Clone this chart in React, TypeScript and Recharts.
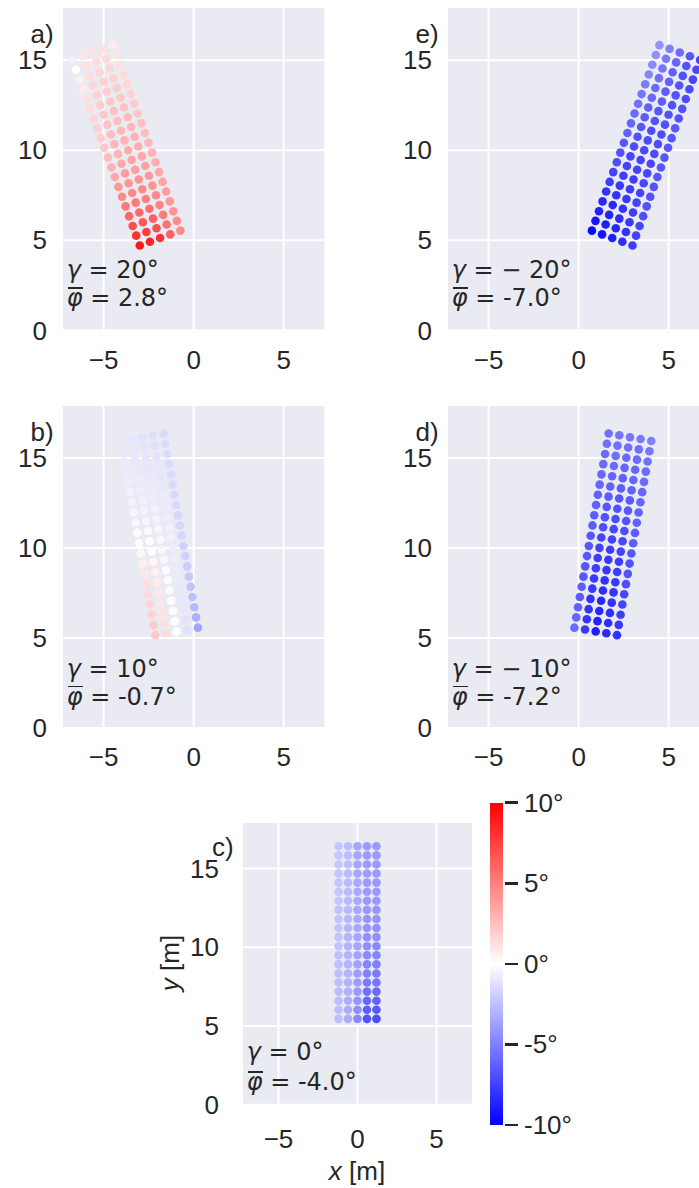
import React from 'react';
import { ScatterChart, Scatter, XAxis, YAxis, CartesianGrid } from 'recharts';

// local grid of the array (m), before rotation by gamma
const colOffsets = [-1.2, -0.6, 0, 0.6, 1.2];
const rowOffsets = [5.45, 6.03, 6.6, 7.18, 7.76, 8.33, 8.91, 9.49, 10.06, 10.64, 11.22, 11.79, 12.37, 12.95, 13.52, 14.1, 14.68, 15.25, 15.83, 16.41];

const xTicks = [-5, 0, 5];
const yTicks = [0, 5, 10, 15];
const cbarTicks = [10, 5, 0, -5, -10];

// phi (deg) per column, bottom row first
const phiA = [
  [9.0, 8.0, 7.0, 6.0, 5.2, 4.6, 4.0, 3.4, 3.0, 2.6, 2.2, 2.0, 1.8, 1.6, 1.4, 1.2, 0.8, 0.6, 0.0, -0.6],
  [8.6, 7.6, 6.6, 5.8, 5.2, 4.6, 4.2, 3.8, 3.4, 3.0, 2.8, 2.6, 2.4, 2.2, 2.0, 1.8, 1.6, 1.4, 1.2, 1.0],
  [8.0, 7.0, 6.2, 5.6, 5.0, 4.6, 4.2, 3.8, 3.6, 3.2, 3.0, 2.8, 2.6, 2.4, 2.2, 2.0, 1.8, 1.6, 1.4, 1.2],
  [6.2, 5.6, 5.2, 4.8, 4.6, 4.2, 4.0, 3.6, 3.4, 3.2, 3.0, 2.8, 2.6, 2.4, 2.2, 2.0, 1.8, 1.6, 1.4, 1.2],
  [4.6, 4.5, 4.2, 4.0, 3.8, 3.6, 3.4, 3.2, 3.0, 2.8, 2.6, 2.4, 2.2, 2.0, 1.8, 1.6, 1.4, 1.2, 1.0, 0.8],
];
const phiB = [
  [2.2, 2.0, 1.8, 1.6, 1.4, 1.2, 0.9, 0.6, 0.3, 0.1, -0.1, -0.3, -0.4, -0.5, -0.6, -0.7, -0.8, -0.8, -0.9, -0.9],
  [1.4, 1.2, 1.1, 1.0, 0.9, 0.7, 0.5, 0.3, 0.1, 0.0, -0.2, -0.4, -0.5, -0.6, -0.7, -0.8, -0.9, -1.0, -1.0, -1.0],
  [0.0, 0.0, -0.1, -0.1, -0.2, -0.2, -0.2, -0.3, -0.3, -0.3, -0.4, -0.5, -0.6, -0.7, -0.8, -0.9, -1.0, -1.0, -1.1, -1.2],
  [-1.2, -1.2, -1.0, -1.0, -0.9, -0.8, -0.8, -0.7, -0.7, -0.6, -0.6, -0.7, -0.8, -0.8, -0.9, -1.0, -1.0, -1.1, -1.2, -1.3],
  [-3.6, -3.2, -2.8, -2.6, -2.4, -2.2, -2.0, -1.8, -1.8, -1.6, -1.6, -1.6, -1.5, -1.5, -1.5, -1.4, -1.4, -1.4, -1.4, -1.5],
];
const phiC = [
  [-2.6, -2.6, -2.6, -2.6, -2.5, -2.5, -2.5, -2.5, -2.4, -2.4, -2.4, -2.4, -2.4, -2.3, -2.3, -2.3, -2.3, -2.2, -2.2, -2.2],
  [-3.2, -3.2, -3.2, -3.1, -3.1, -3.0, -3.0, -3.0, -2.9, -2.9, -2.9, -2.8, -2.8, -2.8, -2.7, -2.7, -2.7, -2.6, -2.6, -2.6],
  [-4.6, -4.4, -4.2, -4.0, -3.9, -3.8, -3.7, -3.6, -3.5, -3.5, -3.4, -3.4, -3.4, -3.4, -3.4, -3.4, -3.5, -3.5, -3.5, -3.5],
  [-6.8, -6.4, -6.0, -5.6, -5.2, -5.0, -4.8, -4.6, -4.4, -4.3, -4.2, -4.1, -4.0, -4.0, -3.9, -3.9, -3.9, -3.9, -3.9, -3.9],
  [-7.0, -6.6, -6.2, -5.8, -5.4, -5.2, -5.0, -4.8, -4.6, -4.4, -4.3, -4.2, -4.1, -4.0, -4.0, -4.0, -4.0, -4.0, -4.0, -4.0],
];
const phiD = [
  [-5.8, -6.0, -6.2, -6.4, -6.4, -6.6, -6.6, -6.6, -6.6, -6.6, -6.4, -6.4, -6.2, -6.2, -6.0, -6.0, -5.8, -5.8, -5.6, -5.6],
  [-7.8, -8.0, -8.0, -8.0, -7.8, -7.8, -7.6, -7.6, -7.4, -7.2, -7.0, -6.8, -6.6, -6.4, -6.2, -6.0, -5.8, -5.6, -5.6, -5.4],
  [-8.8, -8.6, -8.4, -8.4, -8.2, -8.0, -7.8, -7.8, -7.6, -7.4, -7.2, -7.0, -6.8, -6.6, -6.4, -6.2, -6.0, -5.8, -5.6, -5.4],
  [-8.4, -8.2, -8.2, -8.0, -8.0, -7.8, -7.6, -7.6, -7.4, -7.2, -7.0, -6.8, -6.6, -6.4, -6.2, -6.0, -6.0, -5.8, -5.6, -5.2],
  [-8.0, -7.8, -7.6, -7.4, -7.2, -7.0, -6.8, -6.8, -6.6, -6.4, -6.4, -6.2, -6.2, -6.0, -6.0, -5.8, -5.8, -5.6, -5.4, -5.0],
];
const phiE = [
  [-9.6, -9.2, -8.8, -8.4, -8.0, -7.6, -7.4, -7.0, -6.8, -6.6, -6.2, -6.0, -5.8, -5.6, -5.4, -5.2, -4.8, -4.6, -4.4, -4.2],
  [-9.2, -8.8, -8.6, -8.4, -8.0, -7.8, -7.6, -7.4, -7.2, -7.0, -6.8, -6.6, -6.4, -6.2, -6.0, -5.8, -5.6, -5.4, -5.2, -5.0],
  [-8.8, -8.4, -8.2, -8.0, -7.8, -7.6, -7.6, -7.4, -7.4, -7.2, -7.0, -7.0, -6.8, -6.6, -6.4, -6.4, -6.2, -6.2, -6.0, -5.8],
  [-8.2, -8.0, -7.8, -7.6, -7.4, -7.4, -7.2, -7.2, -7.2, -7.0, -7.0, -7.0, -6.8, -6.8, -6.8, -6.8, -6.8, -6.8, -6.8, -6.6],
  [-7.6, -7.4, -7.2, -7.0, -6.8, -6.8, -6.8, -6.6, -6.6, -6.6, -6.6, -6.6, -6.6, -6.8, -6.8, -7.0, -7.0, -7.2, -7.2, -7.4],
];

const TEXT = '#262626';
const TICK_FONT = '"Liberation Sans", Arial, sans-serif';
const MATH_FONT = '"DejaVu Sans", sans-serif';
const TICK_SIZE = 26;
const MATH_SIZE = 24;

// matplotlib 'bwr', vmin -10, vmax 10
function bwr(v: number) {
  const t = Math.max(-1, Math.min(1, v / 10));
  if (t < 0) {
    const c = Math.round(255 * (1 + t));
    return `rgb(${c},${c},255)`;
  }
  const c = Math.round(255 * (1 - t));
  return `rgb(255,${c},${c})`;
}

function buildPoints(gamma: number, phi: number[][]) {
  const g = (gamma * Math.PI) / 180;
  const pts: { x: number; y: number; phi: number }[] = [];
  colOffsets.forEach((cx, i) => {
    rowOffsets.forEach((ry, j) => {
      pts.push({
        x: cx * Math.cos(g) - ry * Math.sin(g),
        y: cx * Math.sin(g) + ry * Math.cos(g),
        phi: phi[i][j],
      });
    });
  });
  return pts;
}

const fmtX = (v: number) => (v < 0 ? `\u2212${-v}` : `${v}`);

interface PanelProps {
  label: string;
  gamma: number;
  meanText: string;
  phi: number[][];
  left: number;
  top: number;
  w: number;
  h: number;
  yGap: number;
  xGap: number;
  line1: number;
  line2: number;
  labelY: number;
}

function Panel({ label, gamma, meanText, phi, left, top, w, h, yGap, xGap, line1, line2, labelY }: PanelProps) {
  const data = buildPoints(gamma, phi);
  const gammaText = gamma < 0 ? `= \u2212 ${-gamma}°` : `= ${gamma}°`;
  const mathStyle: React.CSSProperties = {
    position: 'absolute',
    left: left + 5,
    lineHeight: '24px',
    fontFamily: MATH_FONT,
    fontSize: MATH_SIZE,
    color: TEXT,
    whiteSpace: 'pre',
  };
  return (
    <>
      <div style={{ position: 'absolute', left: left - 80, top: top - 10 }}>
        <ScatterChart width={w + 90} height={h + 80} margin={{ top: 10, right: 10, bottom: 0, left: 0 }}>
          <CartesianGrid fill="#EAEAF2" fillOpacity={1} stroke="#ffffff" strokeWidth={2} />
          <XAxis
            type="number"
            dataKey="x"
            domain={[-7.31, 7.31]}
            ticks={xTicks}
            allowDataOverflow
            height={70}
            axisLine={false}
            tickLine={false}
            tickSize={0}
            tickMargin={xGap}
            tickFormatter={fmtX}
            tick={{ fill: TEXT, fontSize: TICK_SIZE, fontFamily: TICK_FONT }}
          />
          <YAxis
            type="number"
            dataKey="y"
            domain={[0, 17.95]}
            ticks={yTicks}
            allowDataOverflow
            width={80}
            axisLine={false}
            tickLine={false}
            tickSize={0}
            tickMargin={yGap}
            tick={{ fill: TEXT, fontSize: TICK_SIZE, fontFamily: TICK_FONT }}
          />
          <Scatter
            data={data}
            isAnimationActive={false}
            shape={(p: any) => <circle cx={p.cx} cy={p.cy} r={4.3} fill={bwr(p.payload.phi)} />}
          />
        </ScatterChart>
      </div>
      <div
        style={{
          position: 'absolute',
          left: left - 62,
          width: 54,
          top: top + labelY - 9,
          height: 18,
          lineHeight: '18px',
          textAlign: 'right',
          fontFamily: TICK_FONT,
          fontSize: TICK_SIZE,
          color: TEXT,
        }}
      >
        {label}
      </div>
      <div style={{ ...mathStyle, top: top + h - line1 - 20 }}>
        <i>γ</i> {gammaText}
      </div>
      <div style={{ ...mathStyle, top: top + h - line2 - 20 }}>
        <span style={{ position: 'relative', fontStyle: 'italic' }}>
          φ
          <span
            style={{
              position: 'absolute',
              left: 1,
              right: 0,
              top: 3,
              height: 1.6,
              background: TEXT,
            }}
          />
        </span>{' '}
        = {meanText}°
      </div>
    </>
  );
}

function Colorbar() {
  const left = 490;
  const top = 802.7;
  const height = 322.3;
  return (
    <>
      <div
        style={{
          position: 'absolute',
          left,
          top,
          width: 12.7,
          height,
          background: 'linear-gradient(to top, #0000ff, #ffffff, #ff0000)',
        }}
      />
      {cbarTicks.map((t) => {
        const y = top + ((10 - t) / 20) * height;
        return (
          <React.Fragment key={t}>
            <div style={{ position: 'absolute', left: 505, top: y - 1.25, width: 12.7, height: 2.5, background: TEXT }} />
            <div
              style={{
                position: 'absolute',
                left: 524,
                top: y - 14,
                lineHeight: '28px',
                fontFamily: TICK_FONT,
                fontSize: TICK_SIZE,
                color: TEXT,
              }}
            >
              {t}°
            </div>
          </React.Fragment>
        );
      })}
    </>
  );
}

export default function App() {
  return (
    <div
      style={{
        position: 'absolute',
        left: 0,
        top: 0,
        width: 699,
        height: 1188,
        overflow: 'hidden',
        background: '#ffffff',
      }}
    >
      <Panel label="a)" gamma={20} meanText="2.8" phi={phiA} left={61.7} top={6.7} w={263.3} h={323.3} yGap={15} xGap={20} line1={52} line2={24} labelY={27} />
      <Panel label="e)" gamma={-20} meanText="-7.0" phi={phiE} left={446.7} top={6.7} w={263.3} h={323.3} yGap={15} xGap={20} line1={52} line2={24} labelY={27} />
      <Panel label="b)" gamma={10} meanText="-0.7" phi={phiB} left={61.7} top={404.5} w={263.3} h={323} yGap={15} xGap={20} line1={51} line2={23} labelY={27} />
      <Panel label="d)" gamma={-10} meanText="-7.2" phi={phiD} left={446.7} top={404.5} w={263.3} h={323} yGap={15} xGap={20} line1={51} line2={23} labelY={27} />
      <Panel label="c)" gamma={0} meanText="-4.0" phi={phiC} left={241.7} top={822.3} w={231} h={282.7} yGap={23} xGap={25} line1={45} line2={15} labelY={25} />
      <Colorbar />
      <div
        style={{
          position: 'absolute',
          left: 357 - 60,
          width: 120,
          top: 1157,
          lineHeight: '28px',
          textAlign: 'center',
          fontFamily: TICK_FONT,
          fontSize: TICK_SIZE,
          color: TEXT,
        }}
      >
        <i>x</i> [m]
      </div>
      <div
        style={{
          position: 'absolute',
          left: 170 - 60,
          width: 120,
          top: 963 - 14,
          lineHeight: '28px',
          textAlign: 'center',
          fontFamily: TICK_FONT,
          fontSize: TICK_SIZE,
          color: TEXT,
          transform: 'rotate(-90deg)',
        }}
      >
        <i>y</i> [m]
      </div>
    </div>
  );
}
